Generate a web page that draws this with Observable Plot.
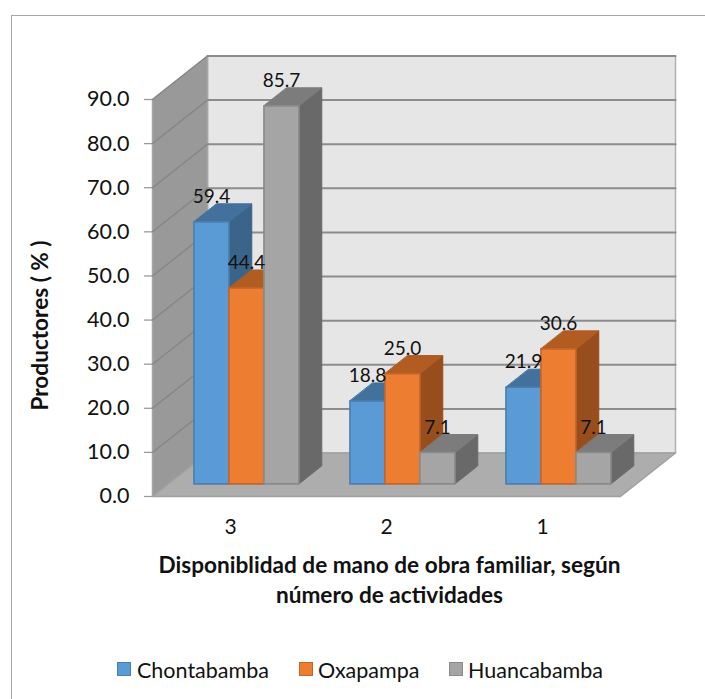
<!DOCTYPE html>
<html><head><meta charset="utf-8">
<script src="https://cdn.jsdelivr.net/npm/d3@7"></script>
<script src="https://cdn.jsdelivr.net/npm/@observablehq/plot@0.6"></script>
<style>
html,body{margin:0;padding:0;background:#fff;width:705px;height:699px;overflow:hidden}
#frame{position:absolute;left:11px;top:15px;right:0;bottom:0;border-top:1.5px solid #a9a9a9;border-left:1.5px solid #a9a9a9}
#chart{position:absolute;left:0;top:0}
#legend{position:absolute;left:0;top:652px;width:705px;height:36px;font:21.5px Lato,sans-serif;color:#111}
#legend span{position:absolute;top:0;line-height:36px;white-space:nowrap}
#legend i{position:absolute;top:10px;width:14px;height:14px;box-sizing:border-box;border:1.5px solid}
svg text{font-family:Lato,sans-serif}
</style></head><body>
<div id="frame"></div><div id="chart"></div><div id="legend"></div>
<script>
const categories = ["3", "2", "1"];
const seriesNames = ["Chontabamba", "Oxapampa", "Huancabamba"];
const chontabamba = [59.4, 18.8, 21.9];
const oxapampa = [44.4, 25.0, 30.6];
const huancabamba = [85.7, 7.1, 7.1];
const yTicks = [0, 10, 20, 30, 40, 50, 60, 70, 80, 90];
const values = [chontabamba, oxapampa, huancabamba];

const palette = [
  {front:"#5b9bd5", top:"#41719c", side:"#3a6489", edge:"#4a7fb0"},
  {front:"#ed7d31", top:"#b15c21", side:"#974e1c", edge:"#c4652a"},
  {front:"#a5a5a5", top:"#7c7c7c", side:"#696969", edge:"#8a8a8a"}
];

// oblique projection: depth d (0 = front of floor, 1 = back wall)
const DX = 0.3526, DY = 9.86;
const P = (x, y, d) => ({x: x + d * DX, y: y + d * DY});
const XMAX = categories.length, YMAX = 90;
const barW = 0.2244, d0 = 0.29, d1 = 0.705;

const faceMark = (points, fill, stroke, strokeWidth = 1) =>
  Plot.line(points, {x: "x", y: "y", curve: "linear-closed", fill, stroke, strokeWidth, strokeLinejoin: "round"});

const marks = [];
// walls and floor
marks.push(faceMark([P(0,0,1),P(XMAX,0,1),P(XMAX,YMAX,1),P(0,YMAX,1)], "#e6e6e6", "#b0b0b0", 1.5));
marks.push(faceMark([P(0,0,0),P(0,0,1),P(0,YMAX,1),P(0,YMAX,0)], "#999999", "#a6a6a6", 1.5));
for (const t of yTicks.slice(1)) {
  marks.push(Plot.line([P(0,t,0),P(0,t,1)], {x:"x", y:"y", stroke:"#858585", strokeWidth:1.3}));
  marks.push(Plot.line([P(0,t,1),P(XMAX,t,1)], {x:"x", y:"y", stroke:"#8c8c8c", strokeWidth:2}));
}
marks.push(faceMark([P(0,0,0),P(XMAX,0,0),P(XMAX,0,1),P(0,0,1)], "#adadad", "#a0a0a0", 1.5));

// bars
const labels = [];
categories.forEach((c, i) => {
  seriesNames.forEach((s, j) => {
    const v = values[j][i], col = palette[j];
    const x0 = i + 0.5 + (j - 1.5) * barW, x1 = x0 + barW;
    marks.push(faceMark([P(x1,0,d0),P(x1,0,d1),P(x1,v,d1),P(x1,v,d0)], col.side, col.side, 1));
    marks.push(faceMark([P(x0,v,d0),P(x1,v,d0),P(x1,v,d1),P(x0,v,d1)], col.top, col.top, 1));
    marks.push(faceMark([P(x0,0,d0),P(x1,0,d0),P(x1,v,d0),P(x0,v,d0)], col.front, col.edge, 1.6));
    labels.push({...P((x0 + x1) / 2, v, d0), text: v.toFixed(1)});
  });
});
marks.push(Plot.text(labels, {x:"x", y:"y", text:"text", dy:-25, fontSize:19, fill:"#111"}));

// axes
marks.push(Plot.axisY(yTicks, {anchor:"left", tickSize:8, tickPadding:15, tickFormat:d => d.toFixed(1), fontSize:21.5, stroke:"#9a9a9a", fill:"#111", label:null, strokeWidth:1.3}));
marks.push(Plot.text(categories.map((c,i)=>({x:i+0.5,c})), {x:"x", text:"c", frameAnchor:"bottom", lineAnchor:"middle", dy:31, fontSize:21, fill:"#111"}));
marks.push(Plot.text(["Productores ( % )"], {frameAnchor:"left", textAnchor:"middle", rotate:-90, dx:-112, dy:27.5, fontSize:22.6, fontWeight:"bold", fill:"#111"}));
marks.push(Plot.text(["Disponiblidad de mano de obra familiar, según\nnúmero de actividades"],
  {x:1.5, dx:3, frameAnchor:"bottom", lineAnchor:"middle", dy:82, lineHeight:1.33, fontSize:22.6, fontWeight:"bold", fill:"#111"}));

const plot = Plot.plot({
  width:705, height:640,
  marginLeft:152, marginRight:85, marginTop:99, marginBottom:144,
  x:{domain:[0, XMAX], axis:null},
  y:{domain:[0, YMAX], axis:null},
  style:{background:"transparent", overflow:"visible"},
  marks
});
document.getElementById("chart").appendChild(plot);

const lx = [[117,137],[299,318],[449,468]];
const legend = document.getElementById("legend");
seriesNames.forEach((s,j)=>{
  const sw=document.createElement("i");
  sw.style.left=lx[j][0]+"px"; sw.style.background=palette[j].front; sw.style.borderColor=palette[j].edge;
  legend.appendChild(sw);
  const t=document.createElement("span"); t.style.left=lx[j][1]+"px"; t.textContent=s; legend.appendChild(t);
});
</script></body></html>
